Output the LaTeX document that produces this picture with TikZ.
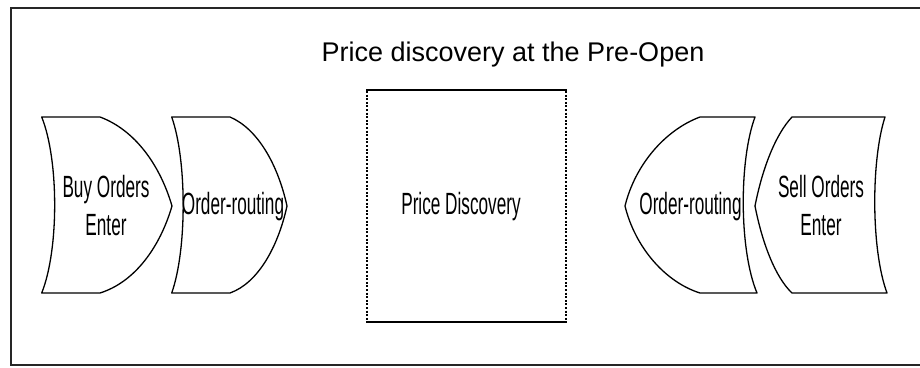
\documentclass[tikz,border=0pt]{standalone}
\usepackage{fontspec}
\setmainfont{Liberation Sans}
\newfontfamily\narrowfont[FakeStretch=0.56]{Liberation Sans}
\begin{document}
\begin{tikzpicture}[x=1pt,y=-1pt,
  shapeline/.style={draw=black,line width=1.3pt,line join=round},
  lbl/.style={font=\narrowfont\fontsize{30.7}{38}\selectfont,align=center,inner sep=0pt},
  ttl/.style={font=\fontsize{27}{32}\selectfont,inner sep=0pt},
  frameline/.style={draw=black!85,line width=1.6pt},
  dotside/.style={line width=1.3pt,dash pattern=on 2pt off 1.6pt},
  solidside/.style={line width=2pt}]
\useasboundingbox (0,0) rectangle (920,367);
% outer frame
\draw[frameline] (921,8) -- (11,8) -- (11,365) -- (921,365);
% title
\node[ttl] (title) at (513,55) {Price discovery at the Pre-Open};
% Buy Orders Enter
\draw[shapeline] (41.7,117) -- (100,117)
  .. controls (135,130) and (160,165) .. (172,206)
  .. controls (160,247) and (135,282) .. (100,293)
  -- (41.7,293) .. controls (59,250) and (59,160) .. cycle;
\node[lbl] (buy) at (106,206) {Buy Orders\\Enter};
% Order-routing left
\draw[shapeline] (171.7,117) -- (230,117)
  .. controls (258,129) and (278,165) .. (287,206)
  .. controls (278,247) and (258,283) .. (230,293)
  -- (171.7,293) .. controls (187,250) and (187,160) .. cycle;
\node[lbl] (orl) at (233,207) {Order-routing};
% Price Discovery box
\draw[dotside] (367,91) -- (367,321);
\draw[dotside] (566,91) -- (566,321);
\draw[solidside] (366,90) -- (567,90);
\draw[solidside] (366,322) -- (567,322);
\node[lbl] (pd) at (461,207) {Price Discovery};
% Order-routing right
\draw[shapeline] (755,117) -- (700,117)
  .. controls (665,130) and (635,165) .. (625,206)
  .. controls (635,247) and (665,282) .. (700,293)
  -- (757,293) .. controls (739,250) and (739,160) .. cycle;
\node[lbl] (orr) at (690.5,207) {Order-routing};
% Sell Orders Enter
\draw[shapeline] (885,117) -- (792,117)
  .. controls (775,135) and (762,170) .. (755,206)
  .. controls (762,242) and (775,277) .. (792,293)
  -- (887,293) .. controls (871,250) and (871,160) .. cycle;
\node[lbl] (sell) at (821,206) {Sell Orders\\Enter};
\end{tikzpicture}
\end{document}
